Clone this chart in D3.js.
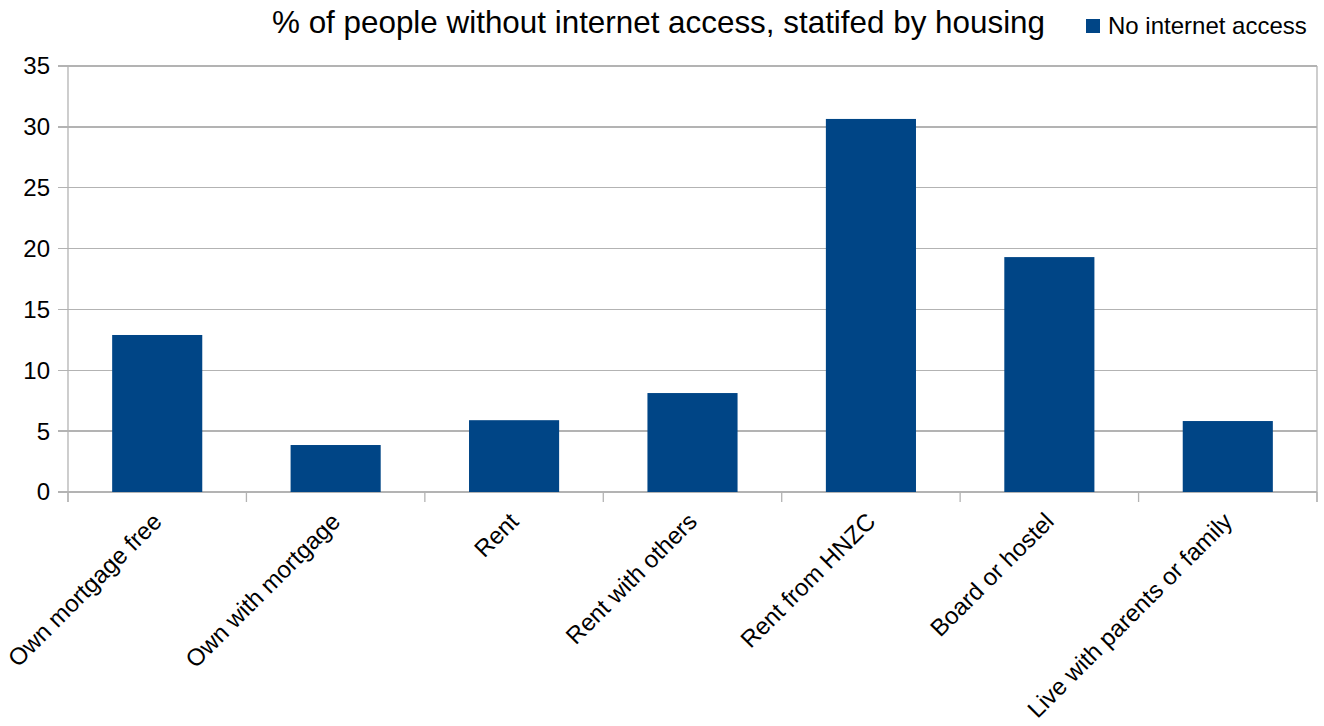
<!DOCTYPE html>
<html><head><meta charset="utf-8">
<script src="https://cdn.jsdelivr.net/npm/d3@7"></script>
<style>body{margin:0;background:#fff;} text{font-family:"Liberation Sans",Arial,sans-serif;fill:#000;}</style>
</head><body>
<svg id="c" width="1324" height="726"></svg>
<script>
const categories = ["Own mortgage free","Own with mortgage","Rent","Rent with others","Rent from HNZC","Board or hostel","Live with parents or family"];
const values = [12.9, 3.86, 5.9, 8.13, 30.65, 19.3, 5.83];
const yTicks = [0,5,10,15,20,25,30,35];
const seriesName = "No internet access";
const title = "% of people without internet access, statifed by housing";

const svg = d3.select("#c");
const m = {l:68, r:1317, t:66, b:492};
const x = d3.scaleBand().domain(categories).range([m.l, m.r]).paddingInner(0).paddingOuter(0);
const y = d3.scaleLinear().domain([0,35]).range([m.b, m.t]);
const grid = "#b3b3b3";

svg.append("g").selectAll("line").data(yTicks).join("line")
  .attr("x1", m.l-10).attr("x2", m.r).attr("y1", d=>y(d)).attr("y2", d=>y(d))
  .attr("stroke", grid).attr("stroke-width",1.3).attr("shape-rendering","crispEdges");
svg.append("line").attr("x1",m.r).attr("x2",m.r).attr("y1",m.t).attr("y2",m.b+10)
  .attr("stroke", grid).attr("stroke-width",1.3);
svg.append("line").attr("x1",m.l).attr("x2",m.l).attr("y1",m.t).attr("y2",m.b+10)
  .attr("stroke", grid).attr("stroke-width",1.3);
const bounds = categories.map(c=>x(c)).concat([m.r]);
svg.append("g").selectAll("line").data(bounds).join("line")
  .attr("x1",d=>d).attr("x2",d=>d).attr("y1",m.b).attr("y2",m.b+10)
  .attr("stroke", grid).attr("stroke-width",1.3);

const bw = x.bandwidth()*0.505;
svg.append("g").selectAll("rect").data(values).join("rect")
  .attr("x",(d,i)=>x(categories[i])+x.bandwidth()/2-bw/2)
  .attr("width",bw)
  .attr("y",d=>y(d)).attr("height",d=>y(0)-y(d))
  .attr("fill","#004586");

svg.append("g").selectAll("text").data(yTicks).join("text")
  .attr("x",50).attr("y",d=>y(d)).attr("dy","0.35em")
  .attr("text-anchor","end").attr("font-size",24).text(d=>d);

svg.append("g").selectAll("text").data(categories).join("text")
  .attr("transform",d=>`translate(${x(d)+x.bandwidth()/2+6},${m.b+31}) rotate(-45)`)
  .attr("text-anchor","end").attr("font-size",24).text(d=>d);

svg.append("text").attr("x",272).attr("y",33).attr("font-size",31.4).text(title);

svg.append("rect").attr("x",1086).attr("y",19).attr("width",14).attr("height",14).attr("fill","#004586");
svg.append("text").attr("x",1108).attr("y",34).attr("font-size",24).text(seriesName);
</script>
</body></html>
